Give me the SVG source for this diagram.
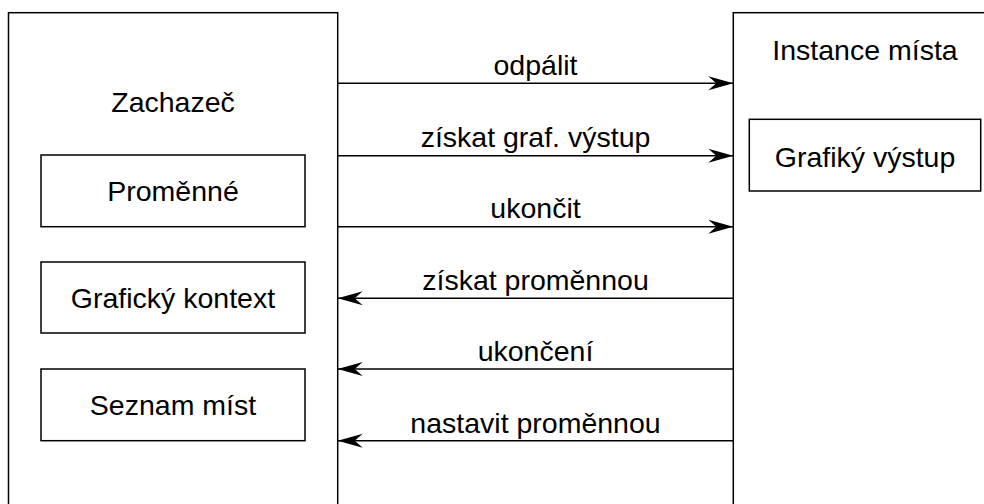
<svg xmlns="http://www.w3.org/2000/svg" width="984" height="504" viewBox="0 0 984 504">
<style>
.box{fill:#fff;stroke:#000;stroke-width:1.5}
.t{font-family:"Liberation Sans",Arial,sans-serif;font-size:28.5px;fill:#000;text-anchor:middle}
.c{stroke:#000;stroke-width:1.5;fill:none}
</style>
<defs>
<marker id="ah" viewBox="-26 -8 27 16" refX="0" refY="0" markerWidth="27" markerHeight="16" markerUnits="userSpaceOnUse" orient="auto">
<path d="M0,0 L-25,-7 L-17,0 L-25,7 Z" fill="#000"/>
</marker>
</defs>
<rect width="984" height="504" fill="#fff"/>
<g id="zachazec">
<rect class="box" x="8.5" y="12.7" width="329.2" height="500"/>
<text class="t" x="173" y="112">Zachazeč</text>
</g>
<g id="promenne">
<rect class="box" x="41" y="155" width="264" height="71.7"/>
<text class="t" x="173" y="201">Proměnné</text>
</g>
<g id="graficky-kontext">
<rect class="box" x="41" y="262" width="264" height="71"/>
<text class="t" x="173" y="308">Grafický kontext</text>
</g>
<g id="seznam-mist">
<rect class="box" x="41" y="369" width="264" height="71.7"/>
<text class="t" x="173" y="415">Seznam míst</text>
</g>
<g id="instance-mista">
<rect class="box" x="733.3" y="12.7" width="300" height="500"/>
<text class="t" x="865" y="60">Instance místa</text>
</g>
<g id="graficky-vystup">
<rect class="box" x="749.3" y="119.3" width="231.4" height="71.7"/>
<text class="t" x="865" y="166.7">Grafiký výstup</text>
</g>
<g id="connectors">
<line class="c" x1="337.7" y1="83.3" x2="733.3" y2="83.3" marker-end="url(#ah)"/>
<text class="t" x="535.5" y="75">odpálit</text>
<line class="c" x1="337.7" y1="155.7" x2="733.3" y2="155.7" marker-end="url(#ah)"/>
<text class="t" x="535.5" y="146.7">získat graf. výstup</text>
<line class="c" x1="337.7" y1="226.7" x2="733.3" y2="226.7" marker-end="url(#ah)"/>
<text class="t" x="535.5" y="218.3">ukončit</text>
<line class="c" x1="733.3" y1="298.3" x2="337.7" y2="298.3" marker-end="url(#ah)"/>
<text class="t" x="535.5" y="290">získat proměnnou</text>
<line class="c" x1="733.3" y1="369" x2="337.7" y2="369" marker-end="url(#ah)"/>
<text class="t" x="535.5" y="361">ukončení</text>
<line class="c" x1="733.3" y1="440.7" x2="337.7" y2="440.7" marker-end="url(#ah)"/>
<text class="t" x="535.5" y="432.7">nastavit proměnnou</text>
</g>
</svg>
